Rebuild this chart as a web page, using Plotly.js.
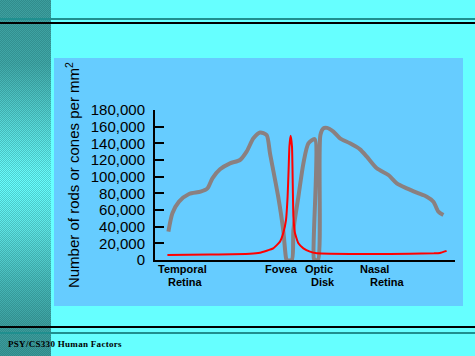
<!DOCTYPE html>
<html>
<head>
<meta charset="utf-8">
<script src="https://cdn.plot.ly/plotly-3.0.1.min.js"></script>
<style>
  html, body { margin:0; padding:0; }
  body { width:475px; height:356px; background:#66ffff; position:relative; overflow:hidden; }
  #strip { position:absolute; left:0; top:0; width:51px; height:356px;
    background:
      repeating-conic-gradient(rgba(20,90,90,0.28) 0 25%, rgba(255,255,255,0) 0 50%) 0 0/2px 2px,
      linear-gradient(to bottom, #3c9e9e 0%, #40a8a8 18%, #58dcdc 36%, #66fafa 48%, #66ffff 52%, #5ee6e6 64%, #46b8b8 80%, #3c9e9e 92%, #3a9a9a 100%);
  }
  .hl { position:absolute; left:0; width:475px; }
  #panel { position:absolute; left:54px; top:58px; width:409px; height:248px; background:#66ccff; }
  #footer { position:absolute; left:8px; top:339px; font-family:"Liberation Serif", serif; font-size:9px; font-weight:bold; letter-spacing:0.3px; color:#000; white-space:nowrap; }
  #plot { position:absolute; left:0; top:0; width:475px; height:356px; }
</style>
</head>
<body>
<div id="strip"></div>
<div class="hl" style="top:18px;height:2px;background:#1f8f8f"></div>
<div class="hl" style="top:22px;height:2px;background:#000"></div>
<div id="panel"></div>
<div class="hl" style="top:326px;height:2px;background:#000"></div>
<div class="hl" style="top:332px;height:2px;background:#1f8f8f"></div>
<div id="footer">PSY/CS330 Human Factors</div>
<div id="plot"></div>
<script>
// Rod density (gray)
const rodX = [-60.8, -58.8, -55.5, -50.5, -44.7, -41.3, -38.8, -35, -30, -25, -21.7, -18.3, -15, -11.7, -10, -5.9, -3.4, -2.0, -1.6,
              0.9, 1.7, 4.2, 6.7, 9.2, 12.4, 11.9, 12.6, 14.0, 15.2, 16.7, 18.5, 21.7, 25, 30, 35, 38.4, 43.4, 49.2, 53.4, 58.4, 63.4, 68.4, 71.7, 74.2, 76.7];
const rodY = [34000, 56000, 70000, 79200, 82000, 86000, 98000, 108800, 116000, 120000, 130000, 146000, 153000, 150000, 128000, 76000, 36000, 2400, 0,
              0, 36000, 76000, 116000, 140000, 145000, 2000, 0, 0, 150000, 158000, 158500, 154000, 146000, 140000, 132800, 124000, 110000, 102000, 92000, 86000, 80800, 76000, 70000, 58000, 54000];
// Cone density (red)
const coneX = [-61.3, -40, -20, -15, -8.4, -5, -3.4, -2, -1.2, -0.7, -0.3, 0.3, 1.0, 1.4, 1.7, 2.5, 4.2, 6.7, 10, 13.4, 20, 40, 60, 72, 75, 78.3];
const coneY = [6000, 6500, 7500, 8800, 14000, 22000, 32000, 48000, 76000, 108000, 136000, 149000, 136000, 88000, 52000, 32000, 20000, 14000, 10000, 8000, 7500, 7200, 7500, 8000, 8500, 11000];
// Y ticks
const yTickVals = [0, 20000, 40000, 60000, 80000, 100000, 120000, 140000, 160000, 180000];
// X region labels
const regionText = ["Temporal", "Retina", "Fovea", "Optic", "Disk", "Nasal", "Retina"];
const regionX    = [-54, -52.5, -4.5, 14.5, 16.5, 42, 48.5];
const regionLine = [1, 2, 1, 1, 2, 1, 2];
const yTitle = "Number of rods or cones per mm<sup>2</sup>";

const traces = [
  { x: rodX, y: rodY, type: 'scatter', mode: 'lines', line: { color: '#8a8080', width: 4, shape: 'spline', smoothing: 0.7 }, hoverinfo: 'skip' },
  { x: coneX, y: coneY, type: 'scatter', mode: 'lines', line: { color: '#ff0000', width: 2, shape: 'spline', smoothing: 0.4 }, hoverinfo: 'skip' }
];

const annotations = regionText.map((t, i) => ({
  text: '<b>' + t + '</b>', x: regionX[i], xref: 'x', y: regionLine[i] === 1 ? -0.06 : -0.147, yref: 'paper',
  showarrow: false, xanchor: 'center', yanchor: 'middle',
  font: { family: 'Liberation Sans, Arial, sans-serif', size: 11, color: '#000' }
}));
annotations.push({
  text: yTitle, textangle: -90, x: -0.273, xref: 'paper', y: 0.567, yref: 'paper',
  showarrow: false, xanchor: 'center', yanchor: 'middle',
  font: { family: 'Liberation Sans, Arial, sans-serif', size: 15, color: '#000' }
});

const layout = {
  width: 475, height: 356,
  margin: { l: 155, r: 20, t: 110, b: 96, pad: 0 },
  paper_bgcolor: 'rgba(0,0,0,0)', plot_bgcolor: 'rgba(0,0,0,0)',
  showlegend: false,
  xaxis: { range: [-67.5, 82.5], showgrid: false, zeroline: false, showticklabels: false, ticks: '',
           showline: true, linecolor: '#000', linewidth: 2, fixedrange: true },
  yaxis: { range: [0, 180000], tickvals: yTickVals, tickformat: ',d', ticks: 'inside', ticklen: 9, tickwidth: 2, tickcolor: '#000',
           showline: true, linecolor: '#000', linewidth: 2, showgrid: false, zeroline: false, ticklabelstandoff: 5,
           tickfont: { family: 'Liberation Sans, Arial, sans-serif', size: 15, color: '#000' }, fixedrange: true },
  annotations: annotations
};
Plotly.newPlot('plot', traces, layout, { staticPlot: true, displayModeBar: false });
</script>
</body>
</html>
